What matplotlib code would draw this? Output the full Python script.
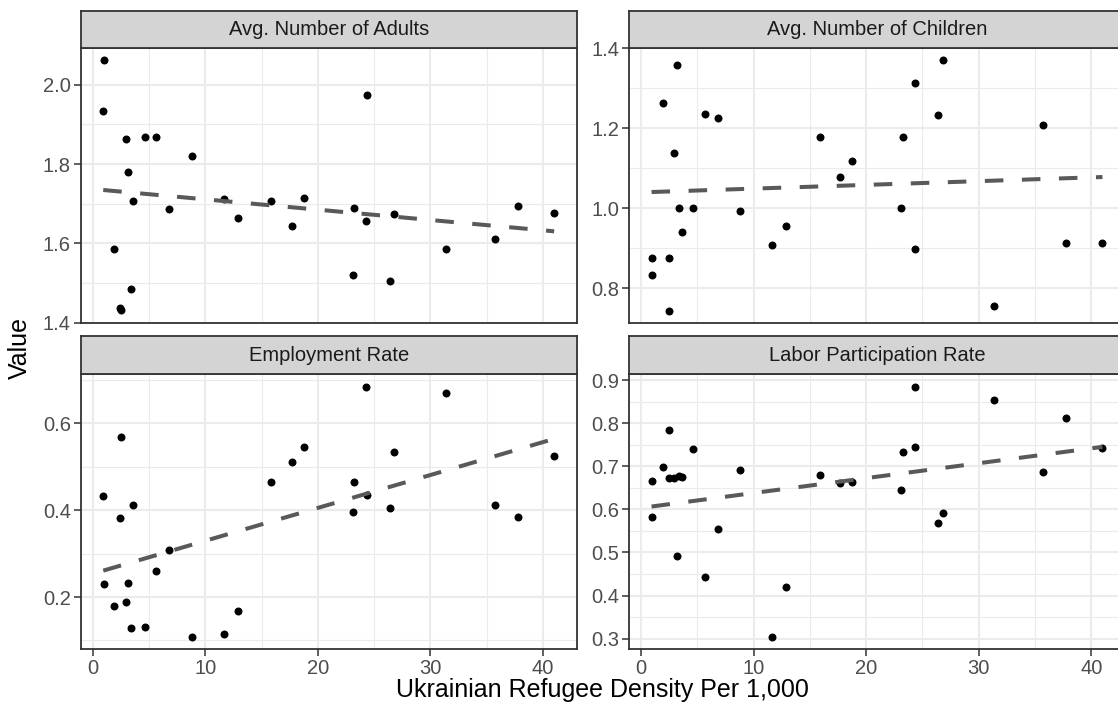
import numpy as np
import matplotlib
matplotlib.use("Agg")
import matplotlib.pyplot as plt
from matplotlib.ticker import MultipleLocator

plt.rcParams['font.family'] = ['Liberation Sans', 'DejaVu Sans']

# refugee density per 1,000 (shared by all panels)
density = [0.92, 0.95, 1.9, 2.45, 2.5, 2.9, 3.15, 3.4, 3.6, 4.6, 5.65, 6.8, 8.8, 11.65,
           12.9, 15.85, 17.7, 18.75, 23.1, 23.25, 24.3, 24.35, 26.4, 26.8, 31.35, 35.75,
           37.8, 41.0]

adults = [1.933, 2.061, 1.585, 1.437, 1.431, 1.862, 1.779, 1.484, 1.706, 1.869, 1.868,
          1.687, 1.821, 1.711, 1.663, 1.707, 1.644, 1.714, 1.521, 1.689, 1.657, 1.974,
          1.506, 1.673, 1.585, 1.612, 1.694, 1.677]
children = [0.833, 0.875, 1.263, 0.877, 0.745, 1.138, 1.359, 1.0, 0.941, 1.0, 1.235,
            1.226, 0.993, 0.908, 0.957, 1.179, 1.077, 1.118, 1.0, 1.178, 1.314, 0.898,
            1.233, 1.369, 0.756, 1.208, 0.914, 0.913]
employment = [0.433, 0.229, 0.179, 0.382, 0.569, 0.189, 0.233, 0.129, 0.412, 0.13, 0.26,
              0.308, 0.109, 0.115, 0.168, 0.465, 0.51, 0.546, 0.395, 0.466, 0.685, 0.435,
              0.404, 0.533, 0.671, 0.413, 0.385, 0.524]
labor = [0.666, 0.583, 0.698, 0.785, 0.672, 0.672, 0.492, 0.677, 0.676, 0.739, 0.444,
         0.554, 0.692, 0.305, 0.421, 0.679, 0.66, 0.664, 0.645, 0.734, 0.885, 0.744,
         0.568, 0.591, 0.854, 0.686, 0.811, 0.743]

titles = ["Avg. Number of Adults", "Avg. Number of Children",
          "Employment Rate", "Labor Participation Rate"]
series = [adults, children, employment, labor]
major_steps = [0.2, 0.2, 0.2, 0.1]

W, H = 1118, 709
fig = plt.figure(figsize=(W / 100, H / 100), dpi=100)

# panel boxes in pixels: left, top, right, bottom
panel_w = 496
boxes = [(80.7, 48, 80.7 + panel_w, 323),
         (629, 48, 629 + panel_w, 323),
         (80.7, 374, 80.7 + panel_w, 649),
         (629, 374, 629 + panel_w, 649)]
strip_h = 37.5

def frac(l, t, r, b):
    return [l / W, 1 - b / H, (r - l) / W, (b - t) / H]

x = np.array(density)
xpad = (x.max() - x.min()) * 0.05

for i, (title, vals, step) in enumerate(zip(titles, series, major_steps)):
    l, t, r, b = boxes[i]
    ax = fig.add_axes(frac(l, t, r, b))
    y = np.array(vals)
    ypad = (y.max() - y.min()) * 0.05

    ax.scatter(x, y, s=33, color='black', linewidths=0, zorder=3)
    k, c = np.polyfit(x, y, 1)
    xl = np.array([x.min(), x.max()])
    ax.plot(xl, k * xl + c, color='#595959', lw=2.9, dashes=(4.6, 4.6),
            dash_capstyle='butt', zorder=4)

    ax.set_xlim(x.min() - xpad, x.max() + xpad)
    ax.set_ylim(y.min() - ypad, y.max() + ypad)
    ax.xaxis.set_major_locator(MultipleLocator(10))
    ax.xaxis.set_minor_locator(MultipleLocator(5))
    ax.yaxis.set_major_locator(MultipleLocator(step))
    ax.yaxis.set_minor_locator(MultipleLocator(step / 2))
    ax.yaxis.set_major_formatter(plt.FormatStrFormatter('%.1f'))

    ax.grid(which='major', color='#EBEBEB', lw=1.5, zorder=0)
    ax.grid(which='minor', color='#EBEBEB', lw=0.8, zorder=0)
    ax.set_axisbelow(True)
    for sp in ax.spines.values():
        sp.set_color('#333333')
        sp.set_linewidth(1.3)
    ax.tick_params(which='major', length=5, width=1.1, color='#333333',
                   labelsize=14.5, labelcolor='#4D4D4D', pad=2)
    ax.tick_params(which='minor', length=0)
    if i < 2:
        ax.tick_params(axis='x', which='both', bottom=False, labelbottom=False)

    # facet strip
    sax = fig.add_axes(frac(l, t - strip_h, r, t))
    sax.set_facecolor('#D4D4D4')
    sax.set_xticks([])
    sax.set_yticks([])
    for sp in sax.spines.values():
        sp.set_color('#333333')
        sp.set_linewidth(1.3)
    sax.text(0.5 * panel_w / (r - l), 0.5, title, transform=sax.transAxes,
             ha='center', va='center', fontsize=14.5, color='#1A1A1A')

fig.text(20 / W, 1 - 348 / H, "Value", rotation=90, ha='center', va='center',
         fontsize=18, color='black')
fig.text(602 / W, 1 - 690 / H, "Ukrainian Refugee Density Per 1,000", ha='center',
         va='center', fontsize=18, color='black')

fig.savefig("out.png", dpi=100)
